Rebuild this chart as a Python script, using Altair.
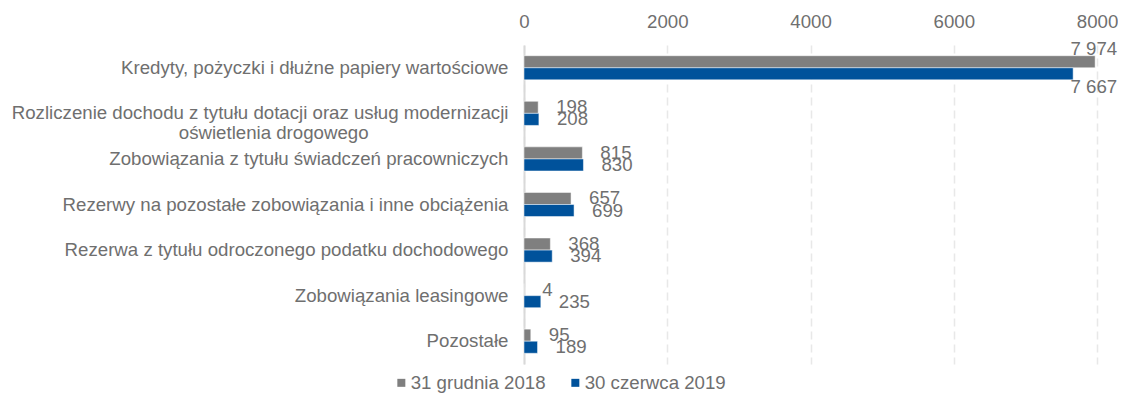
import altair as alt
import pandas as pd

NBSP = "\u00a0"
ZWSP = "\u200b"
categories = [
    "Kredyty, pożyczki i dłużne papiery wartościowe",
    "Rozliczenie dochodu z tytułu dotacji oraz usług modernizacji\noświetlenia drogowego" + NBSP * 27 + ZWSP,
    "Zobowiązania z tytułu świadczeń pracowniczych",
    "Rezerwy na pozostałe zobowiązania i inne obciążenia",
    "Rezerwa z tytułu odroczonego podatku dochodowego",
    "Zobowiązania leasingowe",
    "Pozostałe",
]
series_names = ["31 grudnia 2018", "30 czerwca 2019"]
values_2018 = [7974, 198, 815, 657, 368, 4, 95]
values_2019 = [7667, 208, 830, 699, 394, 235, 189]
x_ticks = [0, 2000, 4000, 6000, 8000]
colors = ["#7f7f7f", "#00529b"]

rows = []
for cat, a, b in zip(categories, values_2018, values_2019):
    for s, v in zip(series_names, (a, b)):
        rows.append({"cat": cat, "series": s, "value": v,
                     "label": f"{v:,}".replace(",", NBSP)})
df = pd.DataFrame(rows)

FONT = "Liberation Sans"
TXT = "#6f6f6f"
FS = 18.67

y_enc = alt.Y(
    "cat:N", sort=categories, title=None,
    scale=alt.Scale(paddingInner=0.47, paddingOuter=0.235),
    axis=alt.Axis(
        labelExpr="split(datum.label, '\\n')",
        labelAlign="right", labelBaseline="middle", labelPadding=16,
        labelFontSize=FS, labelFont=FONT, labelColor=TXT, labelLimit=800,
        labelLineHeight=20,
        ticks=False, domain=True, domainColor="#d9d9d9", domainWidth=2,
        grid=False,
    ),
)
yoff = alt.YOffset("series:N", sort=series_names)
x_enc = alt.X(
    "value:Q", title=None,
    scale=alt.Scale(domain=[0, 8000], nice=False),
    axis=alt.Axis(
        orient="top", values=x_ticks, format="d", labelFlush=False,
        labelFontSize=FS, labelFont=FONT, labelColor=TXT, labelPadding=14,
        ticks=False, domain=False,
        grid=True, gridColor="#e8e8e8", gridDash=[8, 5], gridWidth=1.5,
    ),
)
color_enc = alt.Color(
    "series:N", sort=series_names, title=None,
    scale=alt.Scale(domain=series_names, range=colors),
    legend=alt.Legend(
        orient="none", legendX=-132, legendY=328, direction="horizontal",
        symbolType="square", symbolSize=64, symbolStrokeWidth=0,
        labelFontSize=FS, labelFont=FONT, labelColor=TXT, labelOffset=0,
        columnPadding=20, padding=0,
    ),
)

base = alt.Chart(df)

bars = base.mark_bar(stroke="white", strokeWidth=0.5).encode(
    y=y_enc, yOffset=yoff, x=x_enc, color=color_enc
)

small_labels = base.transform_filter("datum.value < 5000").mark_text(
    align="left", baseline="middle", dx=18, fontSize=FS, font=FONT, color=TXT
).encode(y=alt.Y("cat:N", sort=categories), yOffset=yoff, x="value:Q", text="label:N")

big_a = base.transform_filter(
    f"datum.value >= 5000 && datum.series == '{series_names[0]}'"
).mark_text(
    align="right", baseline="middle", dx=22, dy=-13, fontSize=FS, font=FONT, color=TXT
).encode(y=alt.Y("cat:N", sort=categories), yOffset=yoff, x="value:Q", text="label:N")

big_b = base.transform_filter(
    f"datum.value >= 5000 && datum.series == '{series_names[1]}'"
).mark_text(
    align="right", baseline="middle", dx=44, dy=13, fontSize=FS, font=FONT, color=TXT
).encode(y=alt.Y("cat:N", sort=categories), yOffset=yoff, x="value:Q", text="label:N")

chart = alt.layer(bars, small_labels, big_a, big_b).properties(
    width=573, height=319,
    autosize=alt.AutoSizeParams(type="none"),
    padding={"left": 516, "top": 37, "right": 21, "bottom": 29},
).configure_view(stroke=None)

chart.save("out.html", embed_options={"renderer": "svg", "actions": False})
